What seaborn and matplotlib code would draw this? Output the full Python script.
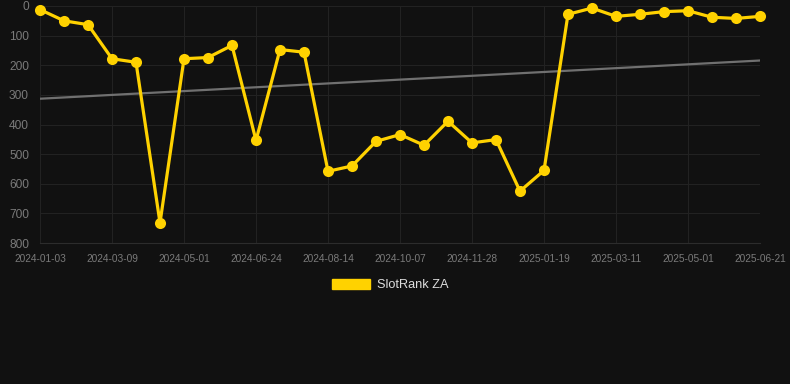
import matplotlib
matplotlib.use("Agg")
import matplotlib.pyplot as plt
import seaborn as sns
import pandas as pd
import numpy as np
from matplotlib.patches import Patch

# ---- data ----
dates = [
    "2024-01-03", "2024-01-25", "2024-02-16", "2024-03-09", "2024-03-27",
    "2024-04-13", "2024-05-01", "2024-05-19", "2024-06-06", "2024-06-24",
    "2024-07-11", "2024-07-28", "2024-08-14", "2024-09-01", "2024-09-19",
    "2024-10-07", "2024-10-24", "2024-11-11", "2024-11-28", "2024-12-15",
    "2025-01-02", "2025-01-19", "2025-02-05", "2025-02-22", "2025-03-11",
    "2025-03-28", "2025-04-14", "2025-05-01", "2025-05-18", "2025-06-04",
    "2025-06-21",
]
rank = [12, 50, 63, 178, 190, 732, 178, 174, 133, 454,
        147, 156, 558, 540, 457, 434, 470, 389, 462, 451,
        625, 555, 28, 7, 35, 28, 19, 16, 38, 42, 35]
trend_ends = [313, 184]
series_name = "SlotRank ZA"
y_ticks = [0, 100, 200, 300, 400, 500, 600, 700, 800]

# ---- styling ----
BG = "#111111"
GOLD = "#FFD200"
GRID = "#222222"
TXT = "#7a7a7a"

sns.set_theme(style="dark")
plt.rcParams["font.family"] = ["Liberation Sans", "DejaVu Sans"]

df = pd.DataFrame({"idx": np.arange(len(dates)), "date": dates, "rank": rank})

fig = plt.figure(figsize=(7.9, 3.84), dpi=100, facecolor=BG)
ax = fig.add_axes([40 / 790, 1 - 243 / 384, 720 / 790, (243 - 6) / 384])
ax.set_facecolor(BG)

# trend line
ax.plot([0, len(dates) - 1], trend_ends, color="#707070", lw=1.6, zorder=2)

sns.lineplot(data=df, x="idx", y="rank", ax=ax, color=GOLD, lw=2.3,
             marker="o", markersize=8, markeredgewidth=0,
             zorder=3, legend=False, clip_on=False)

ax.set_xlim(0, len(dates) - 1)
ax.set_ylim(800, 0)
ax.set_yticks(y_ticks)
ax.set_yticklabels([str(v) for v in y_ticks])
tick_idx = list(range(0, len(dates), 3))
ax.set_xticks(tick_idx)
ax.set_xticklabels([dates[i] for i in tick_idx])

ax.grid(True, color=GRID, lw=0.8)
for s in ["top", "right", "left"]:
    ax.spines[s].set_visible(False)
ax.spines["bottom"].set_color("#2c2c2c")
ax.spines["bottom"].set_linewidth(0.8)

ax.tick_params(axis="y", length=0, pad=8, labelsize=8.6, labelcolor=TXT)
ax.tick_params(axis="x", length=0, pad=8, labelsize=7.3, labelcolor=TXT)
ax.set_xlabel("")
ax.set_ylabel("")

handle = Patch(facecolor=GOLD, edgecolor=GOLD, label=series_name)
fig.legend(handles=[handle], loc="center", bbox_to_anchor=(390 / 790, 1 - 285 / 384),
           frameon=False, fontsize=9.2, handlelength=3.0, handleheight=0.8,
           handletextpad=0.5, labelcolor="#dddddd")

fig.savefig("out.png", dpi=100, facecolor=BG)
